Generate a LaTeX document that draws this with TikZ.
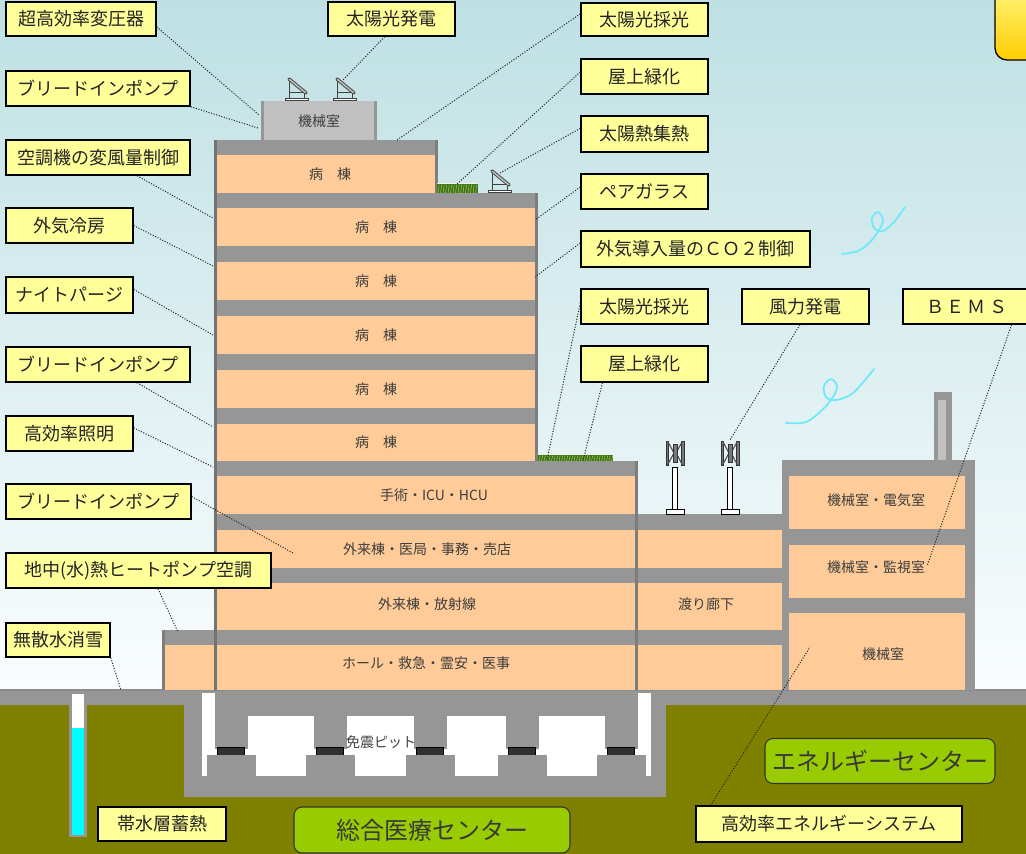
\documentclass[tikz,border=0pt]{standalone}
\usepackage{fontspec}
\setmainfont{Noto Sans CJK JP}
\usetikzlibrary{calc}

\definecolor{skytop}{RGB}{190,224,227}
\definecolor{skybot}{RGB}{250,253,254}
\definecolor{wallgray}{RGB}{150,150,150}
\definecolor{walldark}{RGB}{125,125,125}
\definecolor{roomfill}{RGB}{255,204,153}
\definecolor{labelfill}{RGB}{255,255,153}
\definecolor{soil}{RGB}{128,128,0}
\definecolor{centerfill}{RGB}{153,204,0}
\definecolor{inktext}{RGB}{35,35,35}
\definecolor{roomtext}{RGB}{60,60,60}
\definecolor{machgray}{RGB}{192,192,192}
\definecolor{water}{RGB}{0,255,255}
\definecolor{windline}{RGB}{110,232,250}
\definecolor{padblack}{RGB}{48,48,48}
\definecolor{bladegray}{RGB}{120,120,120}
\definecolor{grassdark}{RGB}{62,112,26}
\definecolor{grasslight}{RGB}{140,190,70}
\definecolor{cornerbot}{RGB}{255,204,0}

\tikzset{
  tag/.style={draw=black, line width=1.1pt, fill=labelfill, inner sep=0pt,
    text=inktext, font=\fontsize{13.5}{15}\selectfont},
  hub/.style={draw=black!80, line width=0.8pt, fill=centerfill, inner sep=0pt,
    rounded corners=6pt, text=inktext!90, font=\fontsize{18}{20}\selectfont},
  roomlbl/.style={inner sep=0pt, text=roomtext, font=\fontsize{10.5}{12}\selectfont},
  leader/.style={draw=black!85, line width=0.75pt, dash pattern=on 0.8pt off 1.2pt},
  panelframe/.style={draw=black!75, line width=0.7pt},
  windcurve/.style={draw=windline, line width=1.3pt, line cap=round}
}

% label box given by its corner pixels
\newcommand\labelbox[6]{%
  \node[tag, minimum width={(#4-#2)*0.75pt}, minimum height={(#5-#3)*0.75pt}]
    (#1) at ({(#2+#4)/2},{(#3+#5)/2}) {#6};}

% tilted solar collector: post top at (#1,#2)
\newcommand\solarpanel[2]{%
  \begin{scope}[shift={(#1,#2)}]
    \fill[white, panelframe] (-3.5,19) rectangle (19.5,21.5);
    \draw[panelframe] (0,0) -- (0,19) (15,13) -- (15,19) (0,13.5) -- (15,13.5);
    \draw[line width=2.6pt, draw=black!70, line cap=round] (0,0) -- (17,14);
    \draw[line width=1.1pt, draw=black!25, line cap=round] (0.5,0.4) -- (16.5,13.6);
  \end{scope}}

% vertical axis wind turbine centred on x=#1
\newcommand\turbine[1]{%
  \begin{scope}[shift={(#1,0)}]
    \fill[white, draw=black, line width=0.6pt] (-2.5,467) rectangle (2.5,509);
    \fill[white, draw=black, line width=0.6pt] (-9,509) rectangle (9,514);
    \fill[bladegray, draw=black!80, line width=0.5pt] (-9,441) rectangle (-6.5,465);
    \fill[bladegray, draw=black!80, line width=0.5pt] (6.5,441) rectangle (9,465);
    \draw[black!70, line width=0.8pt] (-7.5,441) -- (-1,453) -- (-7.5,465)
      (7.5,441) -- (1,453) -- (7.5,465);
    \fill[bladegray, draw=black!80, line width=0.5pt] (-2,444) rectangle (2,462);
  \end{scope}}

% planted roof strip
\newcommand\grass[4]{%
  \fill[grassdark] (#1,#2) rectangle (#3,#4);
  \pgfmathtruncatemacro\gcount{(#3-#1)/2.5-1}
  \foreach \k in {0,...,\gcount}{%
    \draw[grasslight, line width=0.5pt] ({#1+1+\k*2.5},#4) -- ({#1+2.2+\k*2.5},{#2+1.5});}
  \fill[white!85!grasslight] (#1,#2) rectangle (#3,{#2+1.2});}

\begin{document}
\begin{tikzpicture}[x=0.75pt, y=-0.75pt]
\useasboundingbox (0,0) rectangle (1026,854);
\clip (0,0) rectangle (1026,854);

% sky
\shade[top color=skytop, bottom color=skybot] (0,0) rectangle (1026,692);

% ground and soil
\fill[soil] (0,692) rectangle (1026,854);
\fill[wallgray] (0,689) rectangle (1026,705);
\draw[black!45, line width=1.2pt] (0,690) -- (1026,690);

% seismic isolation pit
\fill[wallgray] (184,692) rectangle (666,797);
\fill[white] (202,693) rectangle (651,776);
\fill[wallgray] (215,692) rectangle (638,716);
\foreach \cx in {215,314,414,506,605}{
  \fill[wallgray] (\cx,715) rectangle (\cx+33,749);
  \fill[padblack, draw=black, line width=0.6pt] (\cx+2,747) rectangle (\cx+29,755);
  \fill[wallgray] (\cx-8,755) rectangle (\cx+41,776);
}
\node[roomlbl, text=black!75] (pit) at (381,742) {免震ピット};

% aquifer well
\fill[wallgray] (69,692) rectangle (87,837);
\fill[white] (72,694) rectangle (84,728);
\fill[water] (72,728) rectangle (84,835);

% rooftop machine room
\fill[machgray] (261,101) rectangle (377,140);
\fill[wallgray] (261,101) rectangle (264,140);
\fill[wallgray] (374,101) rectangle (377,140);
\node[roomlbl] (mroof) at (319,121) {機械室};

% hospital tower, top floor
\fill[wallgray] (215,140) rectangle (438,193);
\fill[roomfill] (217,155) rectangle (435,193);
\fill[walldark] (435,140) rectangle (438,193);

% ward floors
\fill[wallgray] (215,193) rectangle (538,461);
\foreach \ya/\yb in {208/246, 262/300, 316/354, 370/408, 424/461}{
  \fill[roomfill] (217,\ya) rectangle (535,\yb);
}
\fill[walldark] (535,193) rectangle (538,461);

% podium floors
\fill[wallgray] (215,461) rectangle (638,690);
\foreach \ya/\yb in {476/514, 530/568, 583/630, 645/690}{
  \fill[roomfill] (217,\ya) rectangle (635,\yb);
}
% connecting corridor
\fill[wallgray] (635,514) rectangle (782,690);
\foreach \ya/\yb in {530/568, 583/630, 645/690}{
  \fill[roomfill] (638,\ya) rectangle (782,\yb);
}
\fill[walldark] (635,461) rectangle (637.5,690);
% low annex
\fill[wallgray] (162,630) rectangle (215,690);
\fill[roomfill] (165,645) rectangle (215,690);
\fill[walldark] (162,630) rectangle (164.5,690);
% tower left facade
\draw[black!55, line width=1.6pt] (215.5,140) -- (215.5,690);

% energy centre
\fill[wallgray] (934,392) rectangle (952,461);
\fill[machgray] (938,400) rectangle (946,461);
\fill[wallgray] (782,460) rectangle (975,690);
\foreach \ya/\yb in {476/529, 545/598, 613/690}{
  \fill[roomfill] (789,\ya) rectangle (965,\yb);
}

% roof equipment
\solarpanel{289}{79}
\solarpanel{337}{79}
\solarpanel{492}{171}
\grass{437}{183}{478}{193}
\grass{538}{454}{613}{461}
\turbine{675}
\turbine{730}

% wind traces, each with a small curl
\draw[windcurve] plot[smooth, tension=0.55] coordinates {(842,254) (858,251) (870,242) (879,230) (883,220) (878,212) (872,218) (874,228) (883,231) (894,222) (905,207)};
\draw[windcurve] plot[smooth, tension=0.55] coordinates {(786,423) (806,422) (822,410) (833,397) (837,386) (831,379) (824,386) (826,397) (836,400) (853,393) (874,369)};

% room names
\node[roomlbl] (w0) at (330,174) {病　棟};
\node[roomlbl] (w1) at (376,227) {病　棟};
\node[roomlbl] (w2) at (376,281) {病　棟};
\node[roomlbl] (w3) at (376,335) {病　棟};
\node[roomlbl] (w4) at (376,389) {病　棟};
\node[roomlbl] (w5) at (376,442) {病　棟};
\node[roomlbl] (p1) at (434,495) {手術・ICU・HCU};
\node[roomlbl] (p2) at (427,549) {外来棟・医局・事務・売店};
\node[roomlbl] (p3) at (427,604) {外来棟・放射線};
\node[roomlbl] (p4) at (426,663) {ホール・救急・霊安・医事};
\node[roomlbl] (cor) at (706,604) {渡り廊下};
\node[roomlbl] (e1) at (876,500) {機械室・電気室};
\node[roomlbl] (e2) at (876,567) {機械室・監視室};
\node[roomlbl] (e3) at (883,654) {機械室};

% leader end points
\coordinate (t1) at (259,115);
\coordinate (t2) at (343,80);
\coordinate (t3) at (258,128);
\coordinate (t4) at (213,218);
\coordinate (t5) at (213,266);
\coordinate (t6) at (213,335);
\coordinate (t7) at (213,427);
\coordinate (t8) at (213,467);
\coordinate (t9) at (293,553);
\coordinate (t10) at (178,632);
\coordinate (t11) at (121,690);
\coordinate (t12) at (397,140);
\coordinate (t13) at (457,184);
\coordinate (t14) at (500,173);
\coordinate (t15) at (535,220);
\coordinate (t16) at (535,277);
\coordinate (t17) at (547,460);
\coordinate (t18) at (583,461);
\coordinate (t19) at (730,440);
\coordinate (t20) at (927,566);
\coordinate (t21) at (810,647);

% captions
\labelbox{a1}{6}{2}{156}{36}{超高効率変圧器}
\labelbox{a2}{328}{2}{455}{36}{太陽光発電}
\labelbox{a3}{6}{71}{190}{106}{ブリードインポンプ}
\labelbox{a4}{6}{140}{190}{175}{空調機の変風量制御}
\labelbox{a5}{6}{208}{133}{243}{外気冷房}
\labelbox{a6}{6}{277}{133}{313}{ナイトパージ}
\labelbox{a7}{6}{347}{190}{382}{ブリードインポンプ}
\labelbox{a8}{6}{416}{133}{451}{高効率照明}
\labelbox{a9}{6}{484}{191}{519}{ブリードインポンプ}
\labelbox{a10}{6}{553}{271}{588}{地中(水)熱ヒートポンプ空調}
\labelbox{a11}{6}{623}{110}{657}{無散水消雪}
\labelbox{a12}{98}{807}{226}{841}{帯水層蓄熱}
\labelbox{b1}{581}{3}{708}{36}{太陽光採光}
\labelbox{b2}{581}{59}{708}{94}{屋上緑化}
\labelbox{b3}{581}{116}{708}{152}{太陽熱集熱}
\labelbox{b4}{581}{174}{708}{209}{ペアガラス}
\labelbox{b5}{581}{231}{810}{267}{外気導入量のＣＯ２制御}
\labelbox{b6}{581}{289}{708}{324}{太陽光採光}
\labelbox{b7}{581}{346}{708}{382}{屋上緑化}
\labelbox{b8}{742}{289}{869}{324}{風力発電}
\labelbox{b9}{903}{289}{1030}{324}{Ｂ\,Ｅ\,Ｍ\,Ｓ}
\labelbox{b10}{696}{806}{962}{842}{高効率エネルギーシステム}

% site names
\node[hub, minimum width={276*0.75pt}, minimum height={46*0.75pt}] (hosp) at (432,830) {総合医療センター};
\node[hub, minimum width={230*0.75pt}, minimum height={45*0.75pt}] (enc) at (880,761) {エネルギーセンター};

% corner panel
\node[draw=black, line width=1pt, rounded corners=9pt, top color=labelfill,
  bottom color=cornerbot, minimum width={70*0.75pt}, minimum height={90*0.75pt}]
  (corner) at (1030,15) {};

% leaders
\draw[leader] (a1.-6) -- (t1);
\draw[leader] (a2.-111) -- (t2);
\draw[leader] (a3.south east) -- (t3);
\draw[leader] (a4.-25) -- (t4);
\draw[leader] (a5.east) -- (t5);
\draw[leader] (a6.5) -- (t6);
\draw[leader] (a7.-25) -- (t7);
\draw[leader] (a8.5) -- (t8);
\draw[leader] (a9.3) -- (t9);
\draw[leader] (a10.-43) -- (t10);
\draw[leader] (a11.south east) -- (t11);
\draw[leader] (b1.175) -- (t12);
\draw[leader] (b2.176) -- (t13);
\draw[leader] (b3.175) -- (t14);
\draw[leader] (b4.176) -- (t15);
\draw[leader] (b5.177) -- (t16);
\draw[leader] (b6.177) -- (t17);
\draw[leader] (b7.-156) -- (t18);
\draw[leader] (b8.-107) -- (t19);
\draw[leader] (b9.-22) -- (t20);
\draw[leader] (b10.171) -- (t21);
\end{tikzpicture}
\end{document}
